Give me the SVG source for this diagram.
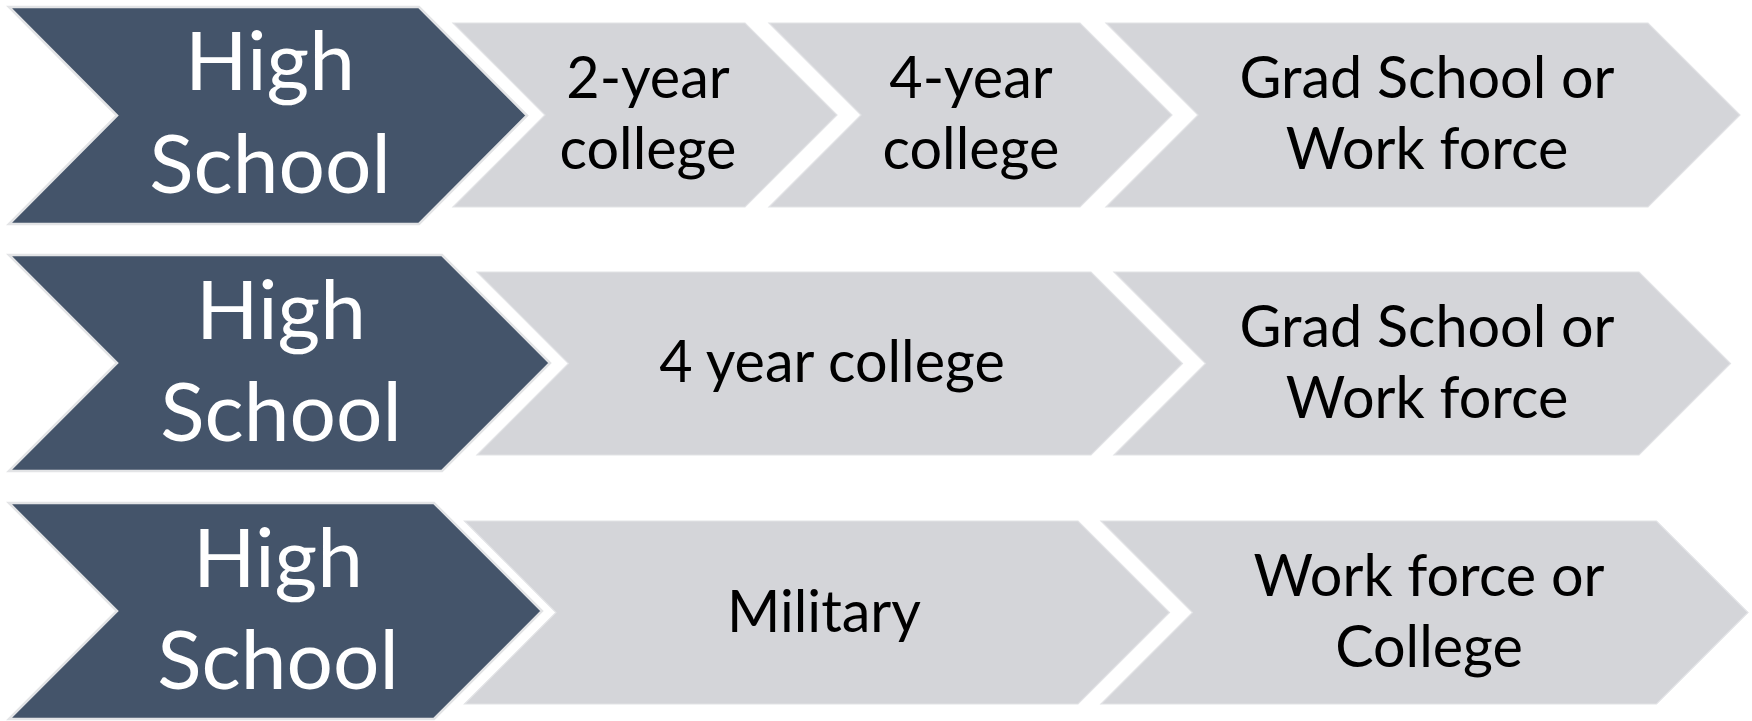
<svg xmlns="http://www.w3.org/2000/svg" width="1752" height="721" viewBox="0 0 1752 721">
  <style>
    .dark { fill: #44546A; stroke: #E3E4E6; stroke-width: 2.5; stroke-linejoin: miter; }
    .light { fill: #D4D5D9; stroke: #E2E3E6; stroke-width: 1.2; stroke-linejoin: miter; }
    .hs { font-family: Lato, "Open Sans", "Liberation Sans", sans-serif; font-size: 82px; fill: #FFFFFF; text-anchor: middle; }
    .lt { font-family: Lato, "Open Sans", "Liberation Sans", sans-serif; font-size: 57.5px; fill: #000000; text-anchor: middle; }
  </style>
  <rect x="0" y="0" width="1752" height="721" fill="#FFFFFF"/>

  <!-- Row 1 -->
  <g id="row1-highschool">
    <polygon class="dark" points="9,7 419,7 527,115.5 419,224 9,224 117,115.5"/>
    <text class="hs" x="270" y="90">High</text>
    <text class="hs" x="270" y="193">School</text>
  </g>
  <g id="row1-2year">
    <polygon class="light" points="453,23 745,23 837,115 745,207 453,207 545,115"/>
    <text class="lt" x="648" y="98">2-year</text>
    <text class="lt" x="648" y="169">college</text>
  </g>
  <g id="row1-4year">
    <polygon class="light" points="769,23 1080,23 1172,115 1080,207 769,207 861,115"/>
    <text class="lt" x="971" y="98">4-year</text>
    <text class="lt" x="971" y="169">college</text>
  </g>
  <g id="row1-grad">
    <polygon class="light" points="1106,23 1648,23 1740,115 1648,207 1106,207 1198,115"/>
    <text class="lt" x="1427" y="98">Grad School or</text>
    <text class="lt" x="1427" y="169">Work force</text>
  </g>

  <!-- Row 2 -->
  <g id="row2-highschool">
    <polygon class="dark" points="9,255 442,255 550,363 442,471 9,471 117,363"/>
    <text class="hs" x="281" y="339">High</text>
    <text class="hs" x="281" y="441">School</text>
  </g>
  <g id="row2-4year">
    <polygon class="light" points="477,272 1091,272 1182.5,363.5 1091,455 477,455 568.5,363.5"/>
    <text class="lt" x="832" y="382">4 year college</text>
  </g>
  <g id="row2-grad">
    <polygon class="light" points="1114,272 1639,272 1730.5,363.5 1639,455 1114,455 1205.5,363.5"/>
    <text class="lt" x="1427" y="346.5">Grad School or</text>
    <text class="lt" x="1427" y="417.5">Work force</text>
  </g>

  <!-- Row 3 -->
  <g id="row3-highschool">
    <polygon class="dark" points="9,503 434,503 542,611 434,719 9,719 117,611"/>
    <text class="hs" x="278" y="587">High</text>
    <text class="hs" x="278" y="689">School</text>
  </g>
  <g id="row3-military">
    <polygon class="light" points="464.5,521 1078,521 1169.5,612.5 1078,704 464.5,704 556,612.5"/>
    <text class="lt" x="824" y="632">Military</text>
  </g>
  <g id="row3-work">
    <polygon class="light" points="1101,521 1656.5,521 1748,612.5 1656.5,704 1101,704 1192.5,612.5"/>
    <text class="lt" x="1429" y="595.5">Work force or</text>
    <text class="lt" x="1429" y="666.5">College</text>
  </g>

  <g id="connectors"/>
</svg>
